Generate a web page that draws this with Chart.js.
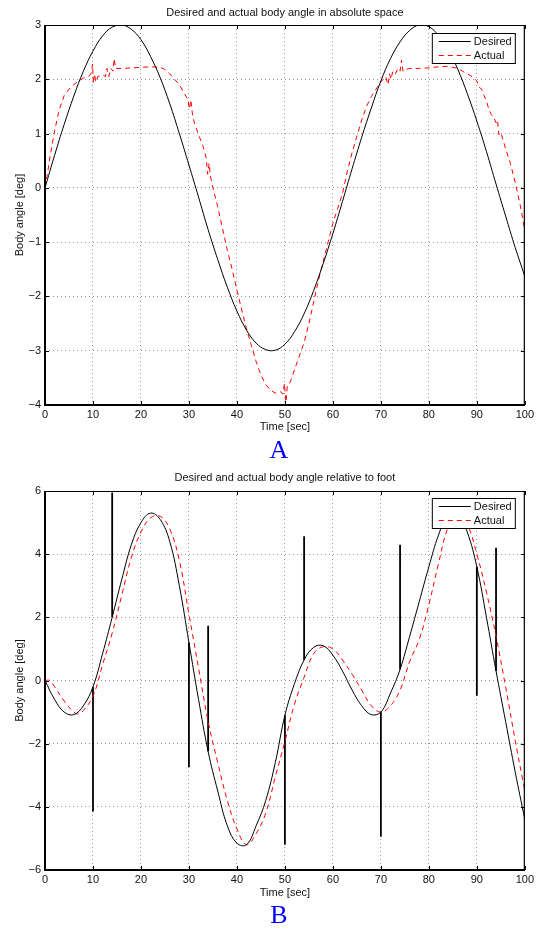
<!DOCTYPE html>
<html>
<head>
<meta charset="utf-8">
<title>Desired and actual body angle</title>
<script src="https://cdn.jsdelivr.net/npm/chart.js@4.4.1/dist/chart.umd.min.js"></script>
<style>
  body { margin: 0; background: #fff; width: 537px; height: 929px; position: relative; overflow: hidden; }
  canvas { position: absolute; left: 0; }
  #chartA { top: 0; }
  #chartB { top: 460px; }
  .tag { position: absolute; left: 263px; width: 32px; text-align: center; color: #0000ff;
         font-family: "Liberation Serif", "Times New Roman", serif; font-size: 26px; line-height: 26px; }
  #tagA { top: 437px; }
  #tagB { top: 902px; }
</style>
</head>
<body>
<canvas id="chartA" width="537" height="440"></canvas>
<div class="tag" id="tagA">A</div>
<canvas id="chartB" width="537" height="445"></canvas>
<div class="tag" id="tagB">B</div>
<script>
// --- chart A: body angle in absolute space ---
var timeDesA = [0,2,4,6,8,10,12,14,16,18,20,22,24,26,28,30,32,34,36,38,40,42,44,46,48,50,
  52,54,56,58,60,62,64,66,68,70,72,74,76,78,80,82,84,86,88,90,92,94,96,98,100];
var desiredA = [0,0.60,1.17,1.69,2.15,2.52,2.80,2.96,3.00,2.92,2.73,2.42,2.03,1.55,1.00,0.42,
  -0.17,-0.77,-1.32,-1.83,-2.27,-2.62,-2.86,-2.98,-2.99,-2.88,-2.65,-2.32,-1.89,-1.39,-0.84,
  -0.25,0.35,0.93,1.47,1.97,2.38,2.69,2.90,3.00,2.97,2.81,2.56,2.19,1.74,1.23,0.67,0.07,
  -0.52,-1.10,-1.63];
var timeActA = [0,0.5,1,2,3,4,5,6,7,8,9,9.6,9.9,10.1,10.3,10.6,11,12,12.6,12.9,13.3,13.7,14.2,
  14.4,14.7,15,16,18,20,22,24,25,26,27,28,29,29.8,30.1,30.4,30.8,31.5,32,33,33.6,33.9,34.2,
  34.5,35,36,37,38,39,40,41,42,43,44,45,46,47,48,49,49.6,49.9,50.2,50.5,51,52,53,54,55,56,57,
  58,59,60,61,62,63,64,65,66,67,68,69,70,71,71.5,71.8,72.1,72.5,73,73.6,74,74.3,74.6,75,76,
  78,80,82,84,85,86,87,88,89,90,90.5,91,91.5,92,92.5,93,93.5,94,94.3,94.6,95,96,97,98,99,100];
var actualA = [0,0.25,0.55,1.05,1.45,1.7,1.82,1.9,1.97,2.02,2.05,2.1,2.28,1.92,2.1,1.95,2.05,
  2.08,2.05,2.2,2.05,2.2,2.15,2.38,2.2,2.2,2.2,2.21,2.22,2.23,2.22,2.18,2.1,2.0,1.9,1.75,1.62,
  1.45,1.62,1.3,1.1,0.98,0.75,0.55,0.25,0.45,0.2,0.0,-0.35,-0.75,-1.15,-1.5,-1.88,-2.25,-2.6,
  -2.9,-3.2,-3.45,-3.62,-3.73,-3.78,-3.75,-3.8,-3.6,-3.95,-3.65,-3.6,-3.35,-3.1,-2.85,-2.5,
  -2.1,-1.7,-1.35,-1.0,-0.65,-0.38,-0.1,0.3,0.65,0.95,1.25,1.5,1.68,1.82,1.95,2.05,1.9,2.1,
  2.0,2.15,2.1,2.2,2.15,2.35,2.15,2.18,2.2,2.2,2.21,2.23,2.24,2.22,2.2,2.15,2.1,2.05,1.97,
  1.85,1.82,1.7,1.6,1.45,1.35,1.3,1.2,1.25,0.98,1.02,0.72,0.45,0.1,-0.3,-0.78];
var yTicksA = [-4,-3,-2,-1,0,1,2,3];

// --- chart B: body angle relative to foot ---
var timeB = [0,2,4,6,8,10,12,14,16,18,20,22,24,26,28,30,32,34,36,38,40,42,44,46,48,50,
  52,54,56,58,60,62,64,66,68,70,72,74,76,78,80,82,84,86,88,90,92,94,96,98,100];
var desiredB = [0,-0.6,-1.0,-1.08,-0.8,-0.2,0.85,2.0,3.2,4.3,5.0,5.3,5.1,4.4,3.0,1.2,-0.6,
  -2.25,-3.5,-4.6,-5.15,-5.2,-4.6,-3.8,-2.6,-1.1,-0.1,0.65,1.05,1.1,0.8,0.3,-0.3,-0.8,-1.08,
  -1.0,-0.4,0.35,1.4,2.5,3.6,4.6,5.25,5.3,4.7,3.6,2.0,0.3,-1.3,-2.9,-4.4];
var timeActB = [0,1,2,4,6,7,8,10,12,14,16,18,20,22,24,26,28,30,32,34,36,38,40,42,44,46,48,
  50,52,54,56,58,60,62,64,66,68,70,72,74,76,78,80,82,84,86,88,90,92,94,96,98,100];
var actualB = [0,0,-0.2,-0.65,-1.0,-1.06,-0.95,-0.5,0.5,1.5,2.7,3.9,4.7,5.15,5.2,4.8,3.8,2.1,
  0.4,-1.3,-2.6,-3.8,-4.7,-5.2,-4.85,-4.2,-3.05,-1.93,-0.75,0.1,0.85,1.07,1.0,0.65,0.2,-0.3,
  -0.8,-1.0,-0.8,-0.3,0.6,1.3,2.4,3.7,4.85,5.3,4.95,4.0,2.8,1.4,-0.2,-1.9,-3.5];
var spikeTime = [10,14,30,34,50,54,70,74,90,94];
var spikeFrom = [-0.2,2.0,1.2,-2.25,-1.1,0.65,-1.0,0.35,3.6,0.3];
var spikeTo = [-4.15,5.95,-2.75,1.73,-5.2,4.57,-4.95,4.3,-0.48,4.2];
var yTicksB = [-6,-4,-2,0,2,4,6];

var xTicks = [0,10,20,30,40,50,60,70,80,90,100];
var FONT = '"Liberation Sans", Arial, Helvetica, sans-serif';

Chart.defaults.font.family = FONT;
Chart.defaults.font.size = 11;
Chart.defaults.color = '#111';

function pts(xs, ys) {
  return xs.map(function (x, i) { return { x: x, y: ys[i] }; });
}

function spikePts() {
  var out = [];
  for (var i = 0; i < spikeTime.length; i++) {
    out.push({ x: spikeTime[i], y: spikeFrom[i] });
    out.push({ x: spikeTime[i], y: spikeTo[i] });
    out.push({ x: spikeTime[i], y: null });
  }
  return out;
}

function minusLabel(v) {
  return v < 0 ? '\u2212' + Math.abs(v) : String(v);
}

// box round the plot plus the small inward ticks on all four sides
var framePlugin = {
  id: 'frame',
  afterDatasetsDraw: function (chart) {
    var a = chart.chartArea, ctx = chart.ctx;
    var xs = chart.scales.x, ys = chart.scales.y;
    ctx.save();
    ctx.strokeStyle = '#000';
    ctx.lineWidth = 1;
    xs.ticks.forEach(function (t) {
      var px = Math.round(xs.getPixelForValue(t.value)) + 0.5;
      ctx.beginPath();
      ctx.moveTo(px, a.bottom); ctx.lineTo(px, a.bottom - 4);
      ctx.moveTo(px, a.top); ctx.lineTo(px, a.top + 4);
      ctx.stroke();
    });
    ys.ticks.forEach(function (t) {
      var py = Math.round(ys.getPixelForValue(t.value)) + 0.5;
      ctx.beginPath();
      ctx.moveTo(a.left, py); ctx.lineTo(a.left + 4, py);
      ctx.moveTo(a.right, py); ctx.lineTo(a.right - 4, py);
      ctx.stroke();
    });
    ctx.lineWidth = 1.2;
    ctx.beginPath();
    ctx.moveTo(a.left, a.top + 0.5); ctx.lineTo(a.right - 0.5, a.top + 0.5);
    ctx.lineTo(a.right - 0.5, a.bottom);
    ctx.stroke();
    ctx.lineWidth = 2;
    ctx.beginPath();
    ctx.moveTo(a.left, a.top); ctx.lineTo(a.left, a.bottom); ctx.lineTo(a.right, a.bottom);
    ctx.stroke();
    ctx.restore();
  }
};

// title centred over the plot area, and the boxed legend in the top right corner
var labelsPlugin = {
  id: 'labels',
  afterDraw: function (chart, args, opts) {
    var a = chart.chartArea, ctx = chart.ctx;
    ctx.save();
    ctx.font = '11px ' + FONT;
    ctx.fillStyle = '#111';
    ctx.textAlign = 'center';
    ctx.textBaseline = 'middle';
    ctx.fillText(opts.title, (a.left + a.right) / 2, a.top - opts.titleGap);

    var w = 83, h = 30;
    var bx = a.right - 10 - w, by = a.top + opts.legendGap;
    ctx.fillStyle = '#fff';
    ctx.fillRect(bx, by, w, h);
    ctx.strokeStyle = '#000';
    ctx.lineWidth = 1;
    ctx.strokeRect(bx + 0.5, by + 0.5, w, h);
    var shown = chart.data.datasets.filter(function (d) { return !d.hideInLegend; });
    shown.forEach(function (d, i) {
      var ly = by + 8 + i * 14;
      ctx.strokeStyle = d.borderColor;
      ctx.lineWidth = 1;
      ctx.setLineDash(d.borderDash || []);
      ctx.beginPath();
      ctx.moveTo(bx + 7, ly + 0.5); ctx.lineTo(bx + 39, ly + 0.5);
      ctx.stroke();
      ctx.setLineDash([]);
      ctx.fillStyle = '#111';
      ctx.textAlign = 'left';
      ctx.fillText(d.label, bx + 42, ly + 1);
    });
    ctx.restore();
  }
};

function makeChart(id, datasets, yMin, yMax, yTicks, title, topPad, titleGap, legendGap, xTitlePad) {
  return new Chart(document.getElementById(id), {
    type: 'line',
    data: { datasets: datasets },
    options: {
      responsive: false,
      animation: false,
      layout: { padding: { top: topPad, right: 11, left: 0, bottom: 0 } },
      plugins: {
        legend: { display: false },
        tooltip: { enabled: false },
        labels: { title: title, titleGap: titleGap, legendGap: legendGap }
      },
      elements: { point: { radius: 0 } },
      scales: {
        x: {
          type: 'linear', min: 0, max: 100,
          afterBuildTicks: function (s) { s.ticks = xTicks.map(function (v) { return { value: v }; }); },
          afterFit: function (s) { s.height = 35; },
          ticks: { padding: 3, maxRotation: 0, autoSkip: false, color: '#111' },
          grid: { color: '#9a9a9a', drawTicks: false },
          border: { display: false, dash: [1, 3] },
          title: { display: true, text: 'Time [sec]', color: '#111', padding: { top: 0, bottom: xTitlePad } }
        },
        y: {
          type: 'linear', min: yMin, max: yMax,
          afterBuildTicks: function (s) { s.ticks = yTicks.map(function (v) { return { value: v }; }); },
          afterFit: function (s) { s.width = 45; },
          ticks: { padding: 4, color: '#111', callback: minusLabel },
          grid: { color: '#9a9a9a', drawTicks: false },
          border: { display: false, dash: [1, 3] },
          title: { display: true, text: 'Body angle [deg]', color: '#111', padding: { top: 13, bottom: 0 } }
        }
      }
    },
    plugins: [framePlugin, labelsPlugin]
  });
}

makeChart('chartA', [
  { label: 'Desired', data: pts(timeDesA, desiredA), borderColor: '#000', borderWidth: 1, tension: 0.4 },
  { label: 'Actual', data: pts(timeActA, actualA), borderColor: '#ff0000', borderWidth: 1,
    borderDash: [5, 4], tension: 0 }
], -4, 3, yTicksA, 'Desired and actual body angle in absolute space', 25, 12, 8, 6);

makeChart('chartB', [
  { label: 'Desired', data: pts(timeB, desiredB), borderColor: '#000', borderWidth: 1, tension: 0.4 },
  { label: 'Actual', data: pts(timeActB, actualB), borderColor: '#ff0000', borderWidth: 1,
    borderDash: [5, 4], tension: 0.4 },
  { label: 'spikes', hideInLegend: true, data: spikePts(), borderColor: '#000', borderWidth: 1.8,
    tension: 0, spanGaps: false }
], -6, 6, yTicksB, 'Desired and actual body angle relative to foot', 31, 13, 7, 5);
</script>
</body>
</html>
